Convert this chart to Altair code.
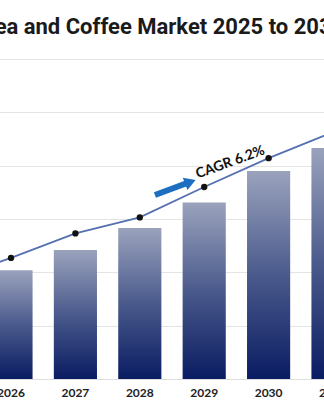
import altair as alt
import pandas as pd

years = ["2025", "2026", "2027", "2028", "2029", "2030", "2031"]
bar_values = [1.75, 2.04, 2.42, 2.83, 3.31, 3.90, 4.33]
line_values = [1.85, 2.27, 2.73, 3.03, 3.60, 4.14, 4.63]
grid_values = [0, 1, 2, 3, 4, 5, 6]

title_text = "Tea and Coffee Market 2025 to 2033"
cagr_label = "CAGR 6.2%"
arrow_x = [2028.25, 2028.74]
arrow_y = [3.45, 3.67]
arrow_head_x = [2028.80]
arrow_head_y = [3.695]
cagr_x = [2029.42]
cagr_y = [4.06]

df = pd.DataFrame({"year": years, "bar": bar_values, "line": line_values})
arrow_df = pd.DataFrame({"x": arrow_x, "y": arrow_y})
head_df = pd.DataFrame({"x": arrow_head_x, "y": arrow_head_y})
text_df = pd.DataFrame({"x": cagr_x, "y": cagr_y, "t": [cagr_label]})

xband = alt.X(
    "year:N",
    sort=years,
    scale=alt.Scale(domain=years, range=[-85.6, 365.2], paddingInner=0.33, paddingOuter=0.165),
    axis=alt.Axis(
        title=None, ticks=False, domain=True, domainColor="#dddddd", labelAngle=0,
        labelFont="Lato", labelFontWeight="bold", labelFontSize=12, labelColor="#222222",
        labelPadding=8, grid=False,
    ),
)
yscale = alt.Y(
    "bar:Q",
    scale=alt.Scale(domain=[0, 6], nice=False, zero=True),
    axis=alt.Axis(title=None, labels=False, ticks=False, domain=False,
                  values=grid_values, gridColor="#e4e4e4", gridWidth=1),
)

gradient = alt.Gradient(
    gradient="linear",
    stops=[alt.GradientStop(color="#9aa2bc", offset=0),
           alt.GradientStop(color="#4a5a8c", offset=0.5),
           alt.GradientStop(color="#0a1c62", offset=1)],
    x1=0, x2=0, y1=0, y2=1,
)

bars = alt.Chart(df).mark_bar(color=gradient, clip=False).encode(x=xband, y=yscale)

line = alt.Chart(df).mark_line(color="#5570b0", strokeWidth=1.8, clip=False).encode(
    x=alt.X("year:N", sort=years), y=alt.Y("line:Q"))
pts = alt.Chart(df).mark_point(filled=True, color="#111111", size=40, opacity=1, clip=False).encode(
    x=alt.X("year:N", sort=years), y=alt.Y("line:Q"))

main = alt.layer(bars, line, pts)

qx_scale = alt.Scale(domain=[2025.844, 2030.875], nice=False, zero=False)
shaft = alt.Chart(arrow_df).mark_line(color="#1f6fc0", strokeWidth=6, clip=False).encode(
    x=alt.X("x:Q", scale=qx_scale, axis=None), y=alt.Y("y:Q"))
head = alt.Chart(head_df).mark_point(shape="triangle-right", filled=True, color="#1f6fc0",
                                      size=170, angle=339, opacity=1, clip=False).encode(
    x=alt.X("x:Q", scale=qx_scale, axis=None), y=alt.Y("y:Q"))
label = alt.Chart(text_df).mark_text(font="Lato", fontSize=14, fontWeight="bold",
                                       color="#111111", angle=340, align="center",
                                       baseline="middle", clip=False).encode(
    x=alt.X("x:Q", scale=qx_scale, axis=None), y=alt.Y("y:Q"), text="t:N")

annot = alt.layer(shaft, head, label)

chart = alt.layer(main, annot).resolve_scale(x="independent").properties(
    width=324, height=320,
    autosize=alt.AutoSizeParams(type="none"),
    padding={"left": 0, "top": 59, "right": 0, "bottom": 26},
    title=alt.TitleParams(title_text, anchor="start", frame="group", dx=-18, dy=24, offset=27,
                          baseline="alphabetic", font="Roboto", fontSize=22,
                          fontWeight="bold", color="#1a1a1a"),
).configure_view(stroke=None)

chart.save("out.html", embed_options={"renderer": "svg", "actions": False})
